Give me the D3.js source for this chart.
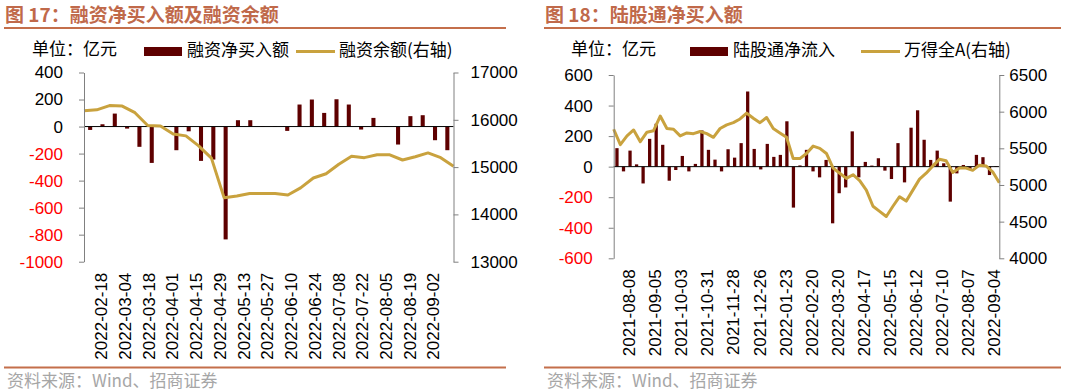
<!DOCTYPE html>
<html>
<head>
<meta charset="utf-8">
<script src="https://cdn.jsdelivr.net/npm/d3@7/dist/d3.min.js"></script>
<style>
  body { margin: 0; background: #fff; }
  svg text { font-family: "Liberation Sans", Arial, sans-serif; }
  svg text.cjk { font-family: "Noto Sans CJK SC", sans-serif; }
</style>
</head>
<body>
<svg id="chart" width="1066" height="392"></svg>
<script>
// ---- 图17 data: weekly margin financing ----
var marginDates = ["2022-02-11","2022-02-18","2022-02-25","2022-03-04","2022-03-11","2022-03-18",
  "2022-03-25","2022-04-01","2022-04-08","2022-04-15","2022-04-22","2022-04-29","2022-05-06",
  "2022-05-13","2022-05-20","2022-05-27","2022-06-03","2022-06-10","2022-06-17","2022-06-24",
  "2022-07-01","2022-07-08","2022-07-15","2022-07-22","2022-07-29","2022-08-05","2022-08-12",
  "2022-08-19","2022-08-26","2022-09-02"];
var marginNetBuy = [-25, 17, 96, -15, -150, -269, 2, -175, -35, -254, -244, -835, 47, 47, 3, -3,
  -32, 163, 200, 101, 202, 163, -22, 64, 3, -133, 77, 84, -101, -175];
var marginBalance = [16190, 16210, 16300, 16290, 16150, 15880, 15870, 15700, 15660, 15450, 15190,
  14350, 14390, 14440, 14440, 14440, 14410, 14560, 14770, 14860, 15060, 15230, 15200, 15260, 15260,
  15150, 15220, 15300, 15200, 15020];
var marginLabels = ["2022-02-18","2022-03-04","2022-03-18","2022-04-01","2022-04-15","2022-04-29",
  "2022-05-13","2022-05-27","2022-06-10","2022-06-24","2022-07-08","2022-07-22","2022-08-05",
  "2022-08-19","2022-09-02"];
var marginLeftTicks = [-1000, -800, -600, -400, -200, 0, 200, 400];
var marginRightTicks = [13000, 14000, 15000, 16000, 17000];

// ---- 图18 data: weekly northbound flows ----
var hkDates = ["2021-07-25","2021-08-01","2021-08-08","2021-08-15","2021-08-22","2021-08-29",
  "2021-09-05","2021-09-12","2021-09-19","2021-09-26","2021-10-03","2021-10-10","2021-10-17",
  "2021-10-24","2021-10-31","2021-11-07","2021-11-14","2021-11-21","2021-11-28","2021-12-05",
  "2021-12-12","2021-12-19","2021-12-26","2022-01-02","2022-01-09","2022-01-16","2022-01-23",
  "2022-01-30","2022-02-06","2022-02-13","2022-02-20","2022-02-27","2022-03-06","2022-03-13",
  "2022-03-20","2022-03-27","2022-04-03","2022-04-10","2022-04-17","2022-04-24","2022-05-01",
  "2022-05-08","2022-05-15","2022-05-22","2022-05-29","2022-06-05","2022-06-12","2022-06-19",
  "2022-06-26","2022-07-03","2022-07-10","2022-07-17","2022-07-24","2022-07-31","2022-08-07",
  "2022-08-14","2022-08-21","2022-08-28","2022-09-04"];
var hkNetInflow = [121, -31, 105, 15, -110, 182, 281, 143, -92, -22, 70, -31, 18, 237, 110, 46,
  -31, 114, 59, 154, 492, 116, -18, 149, 64, 77, 297, -268, 8, 110, -31, -70, 44, -371, -174,
  -136, 231, -70, 31, 7, 55, -26, -81, 154, -103, 255, 369, 176, 44, 105, 22, -229, -44, 11,
  -20, 77, 62, -55, 4];
var windAllA = [5760, 5550, 5670, 5750, 5590, 5720, 5740, 5940, 5770, 5760, 5670, 5710, 5700,
  5730, 5700, 5650, 5770, 5820, 5850, 5900, 5980, 5910, 5850, 5920, 5770, 5710, 5650, 5360,
  5360, 5430, 5530, 5500, 5430, 5230, 5160, 5090, 5140, 5060, 4930, 4710, 4640, 4570, 4710,
  4840, 4780, 4930, 5080, 5160, 5260, 5350, 5330, 5170, 5230, 5230, 5200, 5270, 5260, 5180, 5030];
var hkLabels = ["2021-08-08","2021-09-05","2021-10-03","2021-10-31","2021-11-28","2021-12-26",
  "2022-01-23","2022-02-20","2022-03-20","2022-04-17","2022-05-15","2022-06-12","2022-07-10",
  "2022-08-07","2022-09-04"];
var hkLeftTicks = [-600, -400, -200, 0, 200, 400, 600];
var hkRightTicks = [4000, 4500, 5000, 5500, 6000, 6500];

var svg = d3.select("#chart");
var barColor = "#5e0000", lineColor = "#c9a23e", accent = "#c46f4b", axisColor = "#808080";

function drawPanel(p) {
  var g = svg.append("g");

  // title + rules + source
  g.append("text").attr("class", "cjk")
    .attr("x", p.left).attr("y", 22)
    .style("font-size", "19px").style("font-weight", "bold")
    .attr("fill", "#c0694a").text(p.title);
  g.append("line").attr("x1", p.left - 1).attr("x2", p.right)
    .attr("y1", 28).attr("y2", 28).attr("stroke", accent).attr("stroke-width", 2);
  g.append("line").attr("x1", p.left - 1).attr("x2", p.right)
    .attr("y1", 367.5).attr("y2", 367.5).attr("stroke", accent).attr("stroke-width", 2);
  g.append("text").attr("class", "cjk")
    .attr("x", p.left + 2).attr("y", 387)
    .style("font-size", "17px").attr("fill", "#a6a6a6")
    .text("资料来源：Wind、招商证券");

  // scales
  var x = d3.scaleBand().domain(p.cats).range([p.x0, p.x1])
    .paddingInner(p.pad).paddingOuter(p.pad / 2);
  var xl = d3.scalePoint().domain(p.cats).range([p.x0, p.x1]);
  var yL = d3.scaleLinear().domain(d3.extent(p.lTicks)).range([p.y1, p.y0]);
  var yR = d3.scaleLinear().domain(d3.extent(p.rTicks)).range([p.y1, p.y0]);

  // bars
  g.selectAll(".bar").data(p.bars).enter().append("rect")
    .attr("class", "bar")
    .attr("x", function (d, i) { return x(p.cats[i]); })
    .attr("width", x.bandwidth())
    .attr("y", function (d) { return yL(Math.max(0, d)); })
    .attr("height", function (d) { return Math.abs(yL(d) - yL(0)); })
    .attr("fill", barColor);

  // zero line
  g.append("line").attr("x1", p.x0).attr("x2", p.x1)
    .attr("y1", yL(0)).attr("y2", yL(0)).attr("stroke", "#000");

  // line series (secondary axis, points on tick marks)
  var line = d3.line()
    .x(function (d, i) { return xl(p.cats[i]); })
    .y(function (d) { return yR(d); });
  g.append("path").datum(p.line)
    .attr("d", line).attr("fill", "none")
    .attr("stroke", lineColor).attr("stroke-width", 3)
    .attr("stroke-linejoin", "round");

  // y axes
  var fmt = function (d) { return String(d); };
  var la = g.append("g").attr("transform", "translate(" + p.x0 + ",0)")
    .call(d3.axisLeft(yL).tickValues(p.lTicks).tickFormat(fmt)
      .tickSize(5).tickSizeOuter(0).tickPadding(p.lPad));
  var ra = g.append("g").attr("transform", "translate(" + p.x1 + ",0)")
    .call(d3.axisRight(yR).tickValues(p.rTicks).tickFormat(fmt)
      .tickSize(5).tickSizeOuter(0).tickPadding(p.rPad));
  [la, ra].forEach(function (a) {
    a.select(".domain").attr("stroke", axisColor);
    a.selectAll(".tick line").attr("stroke", axisColor);
    a.selectAll("text").style("font-size", "17px").attr("fill", "#000")
      .style("font-family", "'Liberation Sans', Arial, sans-serif");
  });
  la.selectAll("text").attr("fill", function (d) { return d < 0 ? "#ff0000" : "#000"; });

  // x labels
  var lx = d3.scalePoint().domain(p.labels)
    .range([x(p.labels[0]) + x.bandwidth() / 2 + p.lblShift[0],
            x(p.labels[p.labels.length - 1]) + x.bandwidth() / 2 + p.lblShift[1]]);
  g.selectAll(".xl").data(p.labels).enter().append("text")
    .attr("class", "xl")
    .attr("transform", function (d) { return "translate(" + lx(d) + "," + (p.y1 + 11) + ") rotate(-90)"; })
    .attr("text-anchor", "end").attr("dy", "0.36em")
    .style("font-size", "17px").attr("fill", "#000")
    .text(function (d) { return d; });

  // unit + legend
  g.append("text").attr("class", "cjk").attr("x", p.unitX).attr("y", 55)
    .style("font-size", "17px").attr("fill", "#000").text("单位：亿元");
  g.append("rect").attr("x", p.legX[0]).attr("y", 47).attr("width", 38).attr("height", 9)
    .attr("fill", barColor);
  g.append("text").attr("class", "cjk").attr("x", p.legX[0] + 43).attr("y", 56)
    .style("font-size", "17px").attr("fill", "#000").text(p.barName);
  g.append("line").attr("x1", p.legX[1]).attr("x2", p.legX[1] + 39)
    .attr("y1", 51.5).attr("y2", 51.5).attr("stroke", lineColor).attr("stroke-width", 3);
  g.append("text").attr("class", "cjk").attr("x", p.legX[1] + 43).attr("y", 56)
    .style("font-size", "17px").attr("fill", "#000").text(p.lineName);
}

drawPanel({
  left: 5, right: 506, title: "图 17：融资净买入额及融资余额",
  cats: marginDates, bars: marginNetBuy, line: marginBalance, labels: marginLabels,
  lTicks: marginLeftTicks, rTicks: marginRightTicks,
  x0: 84, x1: 453.5, y0: 72.5, y1: 261.7, pad: 0.67, lPad: 16, rPad: 12, lblShift: [-1.5, -14],
  unitX: 32, legX: [144, 296], barName: "融资净买入额", lineName: "融资余额(右轴)"
});

drawPanel({
  left: 545, right: 1061, title: "图 18：陆股通净买入额",
  cats: hkDates, bars: hkNetInflow, line: windAllA, labels: hkLabels,
  lTicks: hkLeftTicks, rTicks: hkRightTicks,
  x0: 613.7, x1: 999.3, y0: 75, y1: 258.3, pad: 0.5, lPad: 16, rPad: 5, lblShift: [-1, -2],
  unitX: 571, legX: [690, 861], barName: "陆股通净流入", lineName: "万得全A(右轴)"
});
</script>
</body>
</html>
